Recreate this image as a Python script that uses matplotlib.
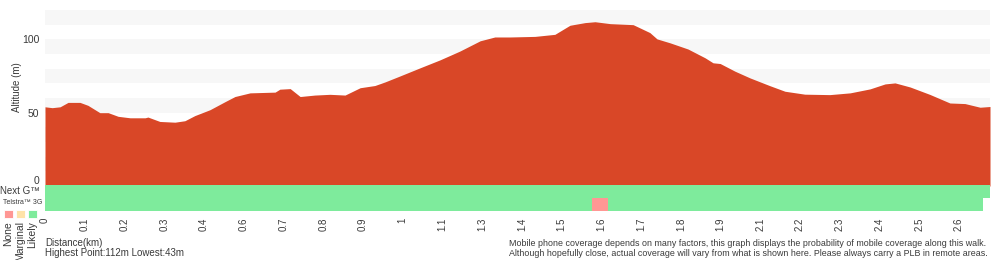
import matplotlib
matplotlib.use("Agg")
import matplotlib.pyplot as plt
from matplotlib.patches import Rectangle

plt.rcParams['font.family'] = ['Liberation Sans', 'DejaVu Sans']

# elevation profile: position along the walk (in tick steps) and altitude (m)
profile_pos = [0, 0.18, 0.38, 0.58, 0.88, 1.08, 1.38, 1.59, 1.84, 2.14, 2.52, 2.59,
               2.89, 3.27, 3.52, 3.77, 4.15, 4.53, 4.78, 5.16, 5.79, 5.91, 6.17, 6.42,
               6.79, 7.17, 7.55, 7.93, 8.30, 8.56, 8.93, 9.44, 9.94, 10.44, 10.95, 11.32,
               11.70, 12.33, 12.83, 13.21, 13.59, 13.84, 14.22, 14.80, 15.22, 15.40, 15.73,
               16.18, 16.61, 16.81, 16.99, 17.36, 17.74, 18.24, 18.62, 19.12, 19.75, 20.26,
               20.76, 21.14, 21.39, 21.77, 22.27, 22.77, 23.15, 23.53, 23.78]
profile_alt = [54, 53.4, 54, 57, 57, 55, 50, 50, 47.5, 46.5, 46.5, 47,
               44, 43.5, 44.5, 48, 52, 57.5, 61, 63.5, 64, 66, 66.4, 61,
               62, 62.5, 62, 67, 68.5, 71, 75, 80.6, 86, 92, 99, 101.6,
               101.6, 102, 103.4, 109.6, 111.4, 112, 110.7, 110, 104.6, 100.3, 97.6,
               93.4, 87.4, 84, 83.5, 78.3, 73.7, 68.4, 64.6, 62.6, 62.3, 63.5,
               66.2, 69.6, 70.3, 67.5, 62.4, 56.6, 56.2, 53.7, 54.2]

tick_labels = ["0", "0.1", "0.2", "0.3", "0.4", "0.6", "0.7", "0.8", "0.9", "1",
               "1.1", "1.3", "1.4", "1.5", "1.6", "1.7", "1.8", "1.9", "2.1", "2.2",
               "2.3", "2.4", "2.5", "2.6"]

# coverage segments (start, end, level)
nextg_segments = [(0, 23.78, "Likely")]
telstra3g_segments = [(0, 13.76, "Likely"), (13.76, 14.17, "None"), (14.17, 23.60, "Likely")]

coverage_levels = ["None", "Marginal", "Likely"]
coverage_colors = {"None": "#ff9794", "Marginal": "#ffe3a8", "Likely": "#7eeb9c"}
red = "#d94727"
txt = "#3a3a3a"

fig = plt.figure(figsize=(10, 2.6), dpi=100)
W, H = 1000, 260


def fx(px):
    return px / W


def fy(py):
    return 1 - py / H


xmax = profile_pos[-1]

# altitude panel
ax = fig.add_axes([fx(45), fy(186), fx(990) - fx(45), fy(10) - fy(186)])
for lo in range(10, 120, 20):
    ax.axhspan(lo, lo + 10, color="#f7f7f7", lw=0, zorder=0)
ax.fill_between(profile_pos, profile_alt, color=red, lw=0, zorder=2)
ax.set_xlim(0, xmax)
ax.set_ylim(0, 120)
ax.set_xticks([])
ax.set_yticks([0, 50, 100])
ax.tick_params(axis="y", length=0, pad=4, labelsize=7.5, labelcolor=txt)
ax.get_yticklabels()[0].set_va("bottom")
for s in ax.spines.values():
    s.set_visible(False)

# coverage panel
cax = fig.add_axes([fx(45), fy(211), fx(990) - fx(45), fy(185) - fy(211)])
for row, segs in [(1, nextg_segments), (0, telstra3g_segments)]:
    for a, b, lvl in segs:
        cax.barh(row + 0.5, b - a, left=a, height=1, color=coverage_colors[lvl], lw=0)
cax.set_xlim(0, xmax)
cax.set_ylim(0, 2)
cax.set_yticks([])
cax.set_xticks(range(len(tick_labels)))
cax.set_xticklabels(tick_labels, rotation=90)
cax.tick_params(axis="x", length=0, pad=5, labelsize=7, labelcolor=txt)
for s in cax.spines.values():
    s.set_visible(False)

# left labels and legend
fig.text(fx(17), fy(87), "Altitude (m)", rotation=90, ha="center", va="center",
         fontsize=7, color=txt)
fig.text(fx(0), fy(191), "Next G™", ha="left", va="center", fontsize=7, color=txt)
fig.text(fx(3), fy(203), "Telstra™ 3G", ha="left", va="center", fontsize=5, color=txt)
for i, lvl in enumerate(coverage_levels):
    x0 = 4 + i * 12
    fig.add_artist(Rectangle((fx(x0), fy(218)), fx(9), fy(210) - fy(218),
                             transform=fig.transFigure, facecolor=coverage_colors[lvl],
                             edgecolor="white", lw=0.6))
    fig.text(fx(x0 + 4.5), fy(221), lvl, rotation=90, ha="center", va="top",
             fontsize=7.5, color=txt)

# bottom notes
fig.text(fx(45), fy(243), "Distance(km)", ha="left", va="center", fontsize=7, color=txt)
fig.text(fx(45), fy(253), "Highest Point:112m Lowest:43m", ha="left", va="center",
         fontsize=7, color=txt)
fig.text(fx(509), fy(243),
         "Mobile phone coverage depends on many factors, this graph displays the probability of mobile coverage along this walk.",
         ha="left", va="center", fontsize=6.4, color=txt)
fig.text(fx(509), fy(253),
         "Although hopefully close, actual coverage will vary from what is shown here. Please always carry a PLB in remote areas.",
         ha="left", va="center", fontsize=6.4, color=txt)

fig.savefig("out.png", dpi=100)
